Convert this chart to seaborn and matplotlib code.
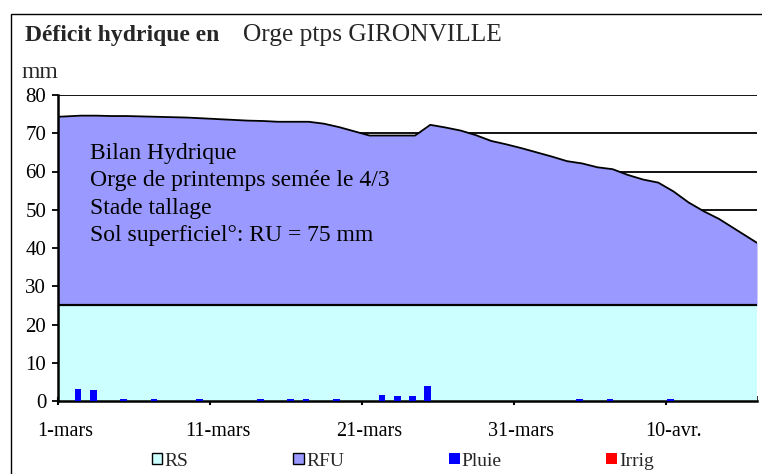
import numpy as np
import matplotlib
matplotlib.use("Agg")
import matplotlib.pyplot as plt
import seaborn as sns
from matplotlib.patches import Patch, Rectangle
from matplotlib.transforms import ScaledTranslation

# ---------------- data ----------------
day_labels = ["1-mars", "11-mars", "21-mars", "31-mars", "10-avr."]
label_days = [0, 10, 20, 30, 40]
n_days = 46

# total soil water reserve (RS + RFU), mm, one value per day
total_reserve = [74.4, 74.6, 74.6, 74.5, 74.5, 74.4, 74.3, 74.2, 74.1, 73.9,
                 73.7, 73.5, 73.3, 73.2, 73.0, 73.0, 73.0, 72.5, 71.6, 70.5,
                 69.4, 69.4, 69.4, 69.4, 72.2, 71.5, 70.7, 69.5, 68.0, 67.1,
                 66.1, 65.0, 63.9, 62.7, 62.1, 61.1, 60.6, 59.1, 57.9, 57.1,
                 54.8, 51.9, 49.6, 47.6, 45.1, 42.6]
rs_level = 25  # RS (réserve de survie), mm

rain_days = [1, 2, 4, 6, 9, 13, 15, 16, 18, 21, 22, 23, 24, 34, 36, 40]
rain_mm = [3.2, 2.8, 0.6, 0.6, 0.6, 0.6, 0.6, 0.6, 0.6, 1.5, 1.2, 1.2, 3.8,
           0.6, 0.6, 0.6]
irrig_days = []
irrig_mm = []

notes = ["Bilan Hydrique",
         "Orge de printemps semée le 4/3",
         "Stade tallage",
         "Sol superficiel°: RU = 75 mm"]

c_rs = "#CCFFFF"
c_rfu = "#9999FF"
c_rain = "#0000FF"
c_irr = "#FF0000"

# ---------------- style ----------------
sns.set_style("white")
plt.rcParams["font.family"] = ["Liberation Serif", "DejaVu Serif"]

W, H = 762, 474
fig = plt.figure(figsize=(W / 100, H / 100), dpi=100)
ax = fig.add_axes([58 / W, 1 - 401 / H, (757 - 58) / W, (401 - 95) / H])

# points at the centre of each day, area extended to the plot edges
x = np.arange(n_days) + 0.5
tot = np.array(total_reserve, dtype=float)
xe = np.r_[0, x, n_days]
te = np.r_[tot[0] - (tot[1] - tot[0]) / 2, tot, tot[-1] + (tot[-1] - tot[-2]) / 2]
rs = np.full_like(xe, rs_level, dtype=float)

ax.fill_between(xe, 0, rs, color=c_rs, linewidth=0, zorder=1)
ax.fill_between(xe, rs, te, color=c_rfu, linewidth=0, zorder=1)
sns.lineplot(x=xe, y=rs, color="black", linewidth=1.6, ax=ax, sort=False,
             estimator=None, zorder=2)
sns.lineplot(x=xe, y=te, color="black", linewidth=1.3, ax=ax, sort=False,
             estimator=None, zorder=2)

# rain bars (left of the day centre, as in a 2-series clustered bar)
rain_x = np.array(rain_days) + 0.32
sns.barplot(x=rain_x, y=rain_mm, native_scale=True, width=0.44, color=c_rain,
            saturation=1, errorbar=None, linewidth=0, ax=ax, zorder=3)
if irrig_days:
    sns.barplot(x=np.array(irrig_days) + 0.76, y=irrig_mm, native_scale=True,
                width=0.44, color=c_irr, saturation=1, errorbar=None,
                linewidth=0, ax=ax, zorder=3)

# ---------------- axes ----------------
ax.set_xlim(0, n_days)
ax.set_ylim(0, 80)
ax.set_xlabel("")
ax.set_ylabel("")
ax.set_yticks(range(0, 81, 10))
ax.yaxis.grid(True, color="black", linewidth=1.3)
ax.xaxis.grid(False)
ax.set_axisbelow(True)

ax.set_xticks(label_days, day_labels)
ax.set_xticks(np.arange(0, n_days + 1), minor=True)
ax.tick_params(axis="x", which="major", bottom=True, direction="inout",
               length=6, width=1.5, labelsize=14.5, pad=12, colors="black")
ax.tick_params(axis="x", which="minor", bottom=True, direction="in",
               length=3.5, width=1.1, colors="black")
ax.tick_params(axis="y", which="major", left=True, direction="out",
               length=4.5, width=1.3, labelsize=15, pad=4, colors="black")
for lab in ax.get_xticklabels():
    lab.set_transform(lab.get_transform() +
                      ScaledTranslation(0.5 * (699 / n_days) / 100, 0,
                                        fig.dpi_scale_trans))

for s in ["top", "right"]:
    ax.spines[s].set_visible(False)
for s in ["left", "bottom"]:
    ax.spines[s].set_color("black")
    ax.spines[s].set_linewidth(1.8)

# ---------------- texts ----------------
ax.text(0.0458, (401 - 143) / 306, "\n".join(notes), transform=ax.transAxes,
        va="top", ha="left", fontsize=17, linespacing=1.4, color="black")

fig.text(22 / W, 1 - 73 / H, "mm", fontsize=17, va="center", ha="left")
fig.text(25 / W, 1 - 35 / H, "Déficit hydrique en", fontsize=17,
         fontweight="bold", va="center", ha="left")
fig.text(243 / W, 1 - 35 / H, "Orge ptps GIRONVILLE", fontsize=18.3,
         va="center", ha="left")

handles = [Patch(facecolor=c_rs, edgecolor="black", linewidth=1),
           Patch(facecolor=c_rfu, edgecolor="black", linewidth=1),
           Patch(facecolor=c_rain, edgecolor="none"),
           Patch(facecolor=c_irr, edgecolor="none")]
fig.legend(handles, ["RS", "RFU", "Pluie", "Irrig"], loc="center",
           bbox_to_anchor=(403 / W, 1 - 461 / H), ncol=4, frameon=False,
           fontsize=14, handlelength=0.55, handleheight=0.55,
           handletextpad=0.12, columnspacing=5.38, borderpad=0)

fig.add_artist(Rectangle((10.5 / W, -0.5), 2, (1 - 14 / H) + 0.5,
                         transform=fig.transFigure, fill=False,
                         edgecolor="black", linewidth=1, clip_on=False))

fig.savefig("out.png", dpi=100)
